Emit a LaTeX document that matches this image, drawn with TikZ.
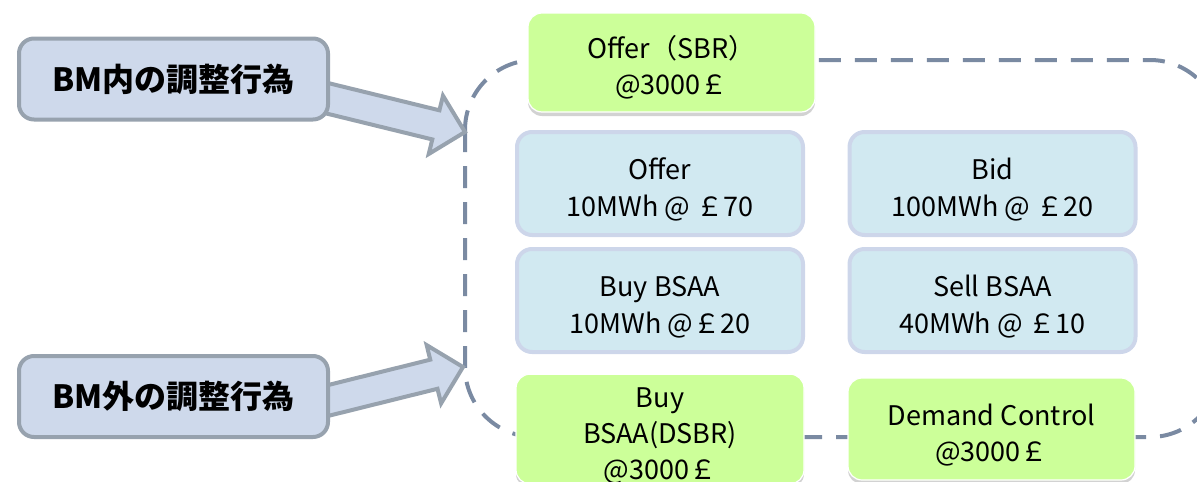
\documentclass[tikz,border=0pt]{standalone}
\usepackage{fontspec}
\setmainfont{Noto Sans CJK JP}
\usetikzlibrary{calc,shadows}

\definecolor{sidefill}{HTML}{CED9EB}
\definecolor{sideborder}{HTML}{97A2AE}
\definecolor{bluefill}{HTML}{D1E9F1}
\definecolor{blueborder}{HTML}{CDD6EA}
\definecolor{greenfill}{HTML}{CCFF99}
\definecolor{dashcol}{HTML}{7A8AA2}

% a taller first line pushes the text block slightly downwards
\newcommand\lift{\rule{0pt}{33pt}}

\tikzset{
  sidebox/.style={draw=sideborder, line width=4pt, fill=sidefill,
    rounded corners=15pt, minimum width=309pt, minimum height=81pt,
    inner sep=0pt, font=\fontsize{32}{36}\selectfont\bfseries},
  bluebox/.style={draw=blueborder, line width=4pt, fill=bluefill,
    rounded corners=15pt, minimum width=286pt, minimum height=103pt,
    inner sep=0pt, align=center, font=\fontsize{27}{37}\selectfont},
  greenbox/.style={draw=white, line width=1.2pt, fill=greenfill,
    rounded corners=14pt, inner sep=0pt, align=center,
    font=\fontsize{27}{36}\selectfont,
    drop shadow={shadow xshift=0pt, shadow yshift=-4pt, opacity=0.25, fill=black!70}},
  blockarrow/.style={draw=sideborder, line width=4pt, fill=sidefill, line join=miter},
  groupframe/.style={draw=dashcol, line width=4pt, dash pattern=on 22pt off 14pt,
    rounded corners=70pt},
}

% fat arrow from #1 to the tip #2
\newcommand\fatarrow[2]{%
  \coordinate (hb) at ($(#2)!30pt!(#1)$);
  \filldraw[blockarrow]
    ($(#1)!15pt!90:(#2)$) -- ($(hb)!15pt!90:(#2)$) -- ($(hb)!30pt!90:(#2)$)
    -- (#2) -- ($(hb)!30pt!-90:(#2)$) -- ($(hb)!15pt!-90:(#2)$)
    -- ($(#1)!15pt!-90:(#2)$) -- cycle;}

\begin{document}
\begin{tikzpicture}[x=1pt,y=-1pt]
\useasboundingbox (0,0) rectangle (1197,482);
\clip (0,0) rectangle (1197,482);

% dashed frame around the adjustment actions
\draw[groupframe] (465,60) rectangle (1220,437);

% arrows pointing at the frame
\coordinate (s1) at (318,96);
\coordinate (t1) at (465,132);
\coordinate (s2) at (318,403);
\coordinate (t2) at (463,367);
\fatarrow{s1}{t1}
\fatarrow{s2}{t2}

% side labels
\node[sidebox] (inside) at (173.5,79) {BM内の調整行為};
\node[sidebox] (outside) at (173.5,396.5) {BM外の調整行為};

% balancing mechanism actions
\node[greenbox, minimum width=287pt, minimum height=99pt] (sbr) at (671.5,62.5)
  {\lift Offer（SBR）\\@3000￡};
\node[bluebox] (offer) at (660,183.5) {\lift Offer\\10MWh @ ￡70};
\node[bluebox] (bid) at (992.5,183.5) {\lift Bid\\100MWh @ ￡20};
\node[bluebox] (buy) at (660,300.5) {\lift Buy BSAA\\10MWh @￡20};
\node[bluebox] (sell) at (992.5,300.5) {\lift Sell BSAA\\40MWh @ ￡10};
\node[greenbox, minimum width=288pt, minimum height=102pt] (dsbr) at (660,429)
  {\lift Buy\\BSAA(DSBR)\\@3000￡};
\node[greenbox, minimum width=287pt, minimum height=102pt] (demand) at (991.5,429)
  {\lift Demand Control\\@3000￡};
\end{tikzpicture}
\end{document}
